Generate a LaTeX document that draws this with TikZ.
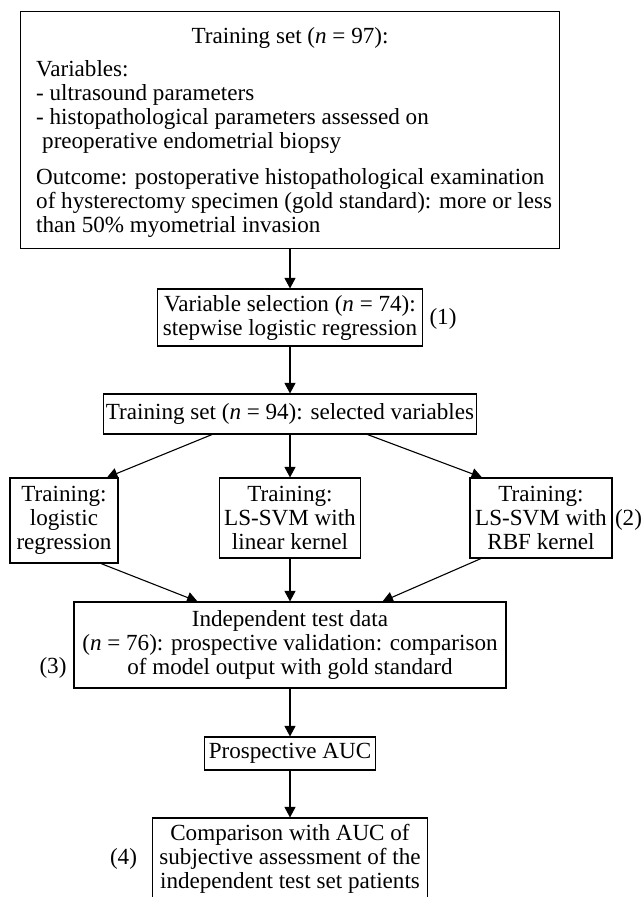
\documentclass[tikz,border=0pt]{standalone}
\usepackage{fontspec}
\setmainfont{Liberation Serif}
\usetikzlibrary{arrows.meta}
\begin{document}
\begin{tikzpicture}[x=1pt,y=-1pt,
  box/.style={draw, line width=1.1pt, inner sep=0pt, align=center},
  lbl/.style={inner sep=0pt},
  arr/.style={line width=1.1pt, -{Triangle[length=10.5pt,width=11pt]}},
  font=\fontsize{23.1}{24}\selectfont]
\useasboundingbox (0,0) rectangle (643,897);
% top box
\node[box, minimum width=539.5pt, minimum height=236.5pt] (top) at (290,129.85) {};
\node[lbl, anchor=base] (toptitle) at (290,43.3) {Training set (\textit{n} = 97):};
\node[lbl, anchor=base west] (v1) at (36,76.7) {Variables:};
\node[lbl, anchor=base west] (v2) at (36,100.7) {- ultrasound parameters};
\node[lbl, anchor=base west] (v3) at (36,124.7) {- histopathological parameters assessed on};
\node[lbl, anchor=base west] (v4) at (42,148.7) {preoperative endometrial biopsy};
\node[lbl, anchor=base west] (o1) at (36,184.3) {Outcome: postoperative histopathological examination};
\node[lbl, anchor=base west] (o2) at (36,208.3) {of hysterectomy specimen (gold standard): more or less};
\node[lbl, anchor=base west] (o3) at (36,232.3) {than 50\% myometrial invasion};
% other boxes
\node[box, minimum width=265.5pt, minimum height=57pt] (var) at (290,317.5) {Variable selection (\textit{n} = 74):\\stepwise logistic regression};
\node[box, minimum width=373.5pt, minimum height=40pt] (t94) at (290,414) {Training set (\textit{n} = 94): selected variables};
\node[box, minimum width=108pt, minimum height=85pt] (left) at (64,520.5) {Training:\\logistic\\regression};
\node[box, minimum width=141pt, minimum height=80pt] (mid) at (290,518) {Training:\\LS-SVM with\\linear kernel};
\node[box, minimum width=142pt, minimum height=80pt] (right) at (541,518) {Training:\\LS-SVM with\\RBF kernel};
\node[box, minimum width=432pt, minimum height=86pt] (ind) at (290,645) {Independent test data\\(\textit{n} = 76): prospective validation: comparison\\of model output with gold standard};
\node[box, minimum width=171pt, minimum height=33pt] (pros) at (290,753.5) {Prospective AUC};
\node[box, minimum width=275.3pt, minimum height=82pt] (bot) at (290,859) {Comparison with AUC of\\subjective assessment of the\\independent test set patients};
% labels
\node[lbl] (l1) at (443,319) {(1)};
\node[lbl] (l2) at (628.5,520) {(2)};
\node[lbl] (l3) at (53,668) {(3)};
\node[lbl] (l4) at (123.5,859) {(4)};
% arrows
\draw[arr] (top.south) -- (var.north);
\draw[arr] (var.south) -- (t94.north);
\draw[arr] ([xshift=-78pt]t94.south) -- ([xshift=43pt]left.north);
\draw[arr] (t94.south) -- (mid.north);
\draw[arr] ([xshift=77.5pt]t94.south) -- ([xshift=-59pt]right.north);
\draw[arr] ([xshift=37pt]left.south) -- ([xshift=-92.5pt]ind.north);
\draw[arr] (mid.south) -- (ind.north);
\draw[arr] ([xshift=-60pt]right.south) -- ([xshift=92.5pt]ind.north);
\draw[arr] (ind.south) -- (pros.north);
\draw[arr] (pros.south) -- (bot.north);
\end{tikzpicture}
\end{document}
